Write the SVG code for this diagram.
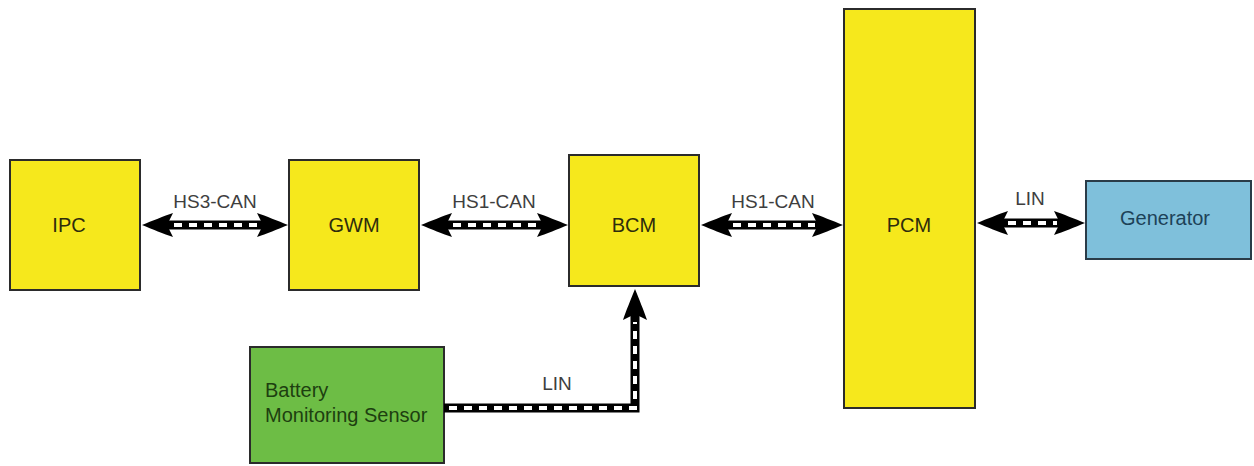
<svg xmlns="http://www.w3.org/2000/svg" xmlns:xlink="http://www.w3.org/1999/xlink" width="1254" height="466" viewBox="0 0 1254 466">
<style>
.box{stroke:#2b2b2b;stroke-width:2}
.yel{fill:#f6e81c}
.grn{fill:#6dbd45}
.blu{fill:#7fc0db;stroke:#2a3c48}
.t{font-family:"Liberation Sans",Arial,sans-serif;font-size:20px}
.ty{fill:#2e2c0c}
.tg{fill:#1d3f10}
.tb{fill:#1d4258}
.lbl{font-family:"Liberation Sans",Arial,sans-serif;font-size:19px;fill:#3e3e3e;text-anchor:middle}
.bus{stroke:#000;stroke-width:9;fill:none}
.dash{stroke:#fff;stroke-width:4;stroke-dasharray:8 7;fill:none}
</style>
<defs>
<path id="ah" d="M0,0 C-10,-4 -22,-9 -31,-12 L-25,0 L-31,12 C-22,9 -10,4 0,0 Z" fill="#000"/>
</defs>
<rect width="1254" height="466" fill="#fff"/>
<g id="IPC"><rect class="box yel" x="10" y="160" width="130" height="130"/><text class="t ty" x="69" y="232" text-anchor="middle">IPC</text></g>
<g id="GWM"><rect class="box yel" x="289" y="160" width="130" height="130"/><text class="t ty" x="354" y="232" text-anchor="middle">GWM</text></g>
<g id="BCM"><rect class="box yel" x="569" y="155" width="130" height="131"/><text class="t ty" x="634" y="232" text-anchor="middle">BCM</text></g>
<g id="PCM"><rect class="box yel" x="844" y="9" width="131" height="399"/><text class="t ty" x="909" y="232" text-anchor="middle">PCM</text></g>
<g id="Generator"><rect class="box blu" x="1086" y="181" width="165" height="78"/><text class="t tb" x="1165" y="225" text-anchor="middle">Generator</text></g>
<g id="BMS"><rect class="box grn" x="250" y="347" width="194" height="116"/><text class="t tg" x="265" y="397">Battery</text><text class="t tg" x="265" y="422">Monitoring Sensor</text></g>
<g id="connectors">
<line class="bus" x1="160" y1="225" x2="270" y2="225"/>
<line class="dash" x1="174" y1="225" x2="260" y2="225"/>
<use xlink:href="#ah" transform="translate(142,225) rotate(180)"/>
<use xlink:href="#ah" transform="translate(288,225)"/>
<text class="lbl" x="215" y="208">HS3-CAN</text>
<line class="bus" x1="440" y1="225" x2="548" y2="225"/>
<line class="dash" x1="453" y1="225" x2="540" y2="225"/>
<use xlink:href="#ah" transform="translate(421,225) rotate(180)"/>
<use xlink:href="#ah" transform="translate(568,225)"/>
<text class="lbl" x="494" y="208">HS1-CAN</text>
<line class="bus" x1="720" y1="225" x2="824" y2="225"/>
<line class="dash" x1="733" y1="225" x2="815" y2="225"/>
<use xlink:href="#ah" transform="translate(701,225) rotate(180)"/>
<use xlink:href="#ah" transform="translate(843,225)"/>
<text class="lbl" x="773" y="208">HS1-CAN</text>
<line class="bus" x1="996" y1="223" x2="1066" y2="223"/>
<line class="dash" x1="1008" y1="223" x2="1057" y2="223"/>
<use xlink:href="#ah" transform="translate(977,223) rotate(180)"/>
<use xlink:href="#ah" transform="translate(1085,223)"/>
<text class="lbl" x="1030" y="205">LIN</text>
<path class="bus" d="M444,408 H635 V310" stroke-linejoin="miter"/>
<path class="dash" d="M449,408 H635 V322"/>
<use xlink:href="#ah" transform="translate(635,289) rotate(-90)"/>
<text class="lbl" x="557" y="390">LIN</text>
</g>
</svg>
